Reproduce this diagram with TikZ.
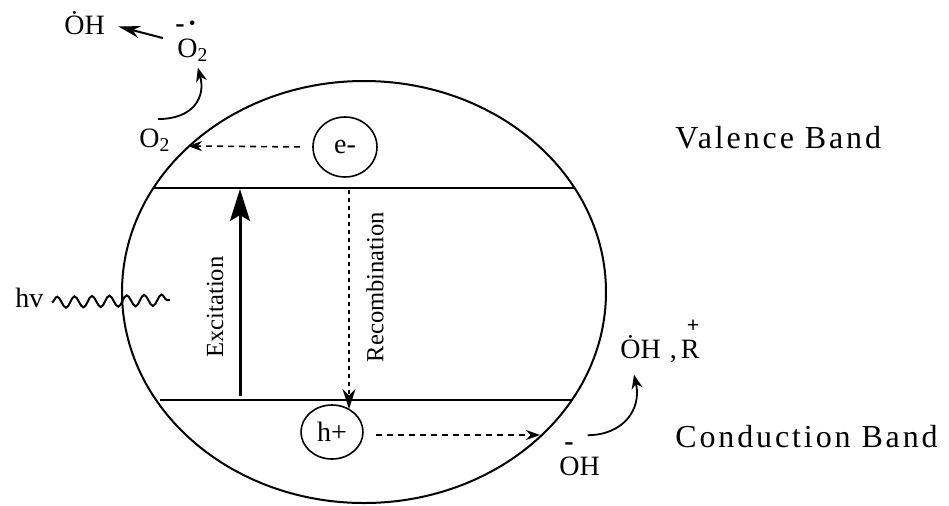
\documentclass[tikz,border=0pt]{standalone}
\usepackage{fontspec}
\setmainfont{Liberation Serif}
\usetikzlibrary{arrows.meta, shapes.geometric, decorations.pathmorphing}

% charge mark set above a letter
\newcommand\chgover[3][1em]{\leavevmode\rlap{\raisebox{#1}{#2}}#3}

\begin{document}
\begin{tikzpicture}[x=0.5pt, y=-0.5pt,
  chem/.style={font=\fontsize{14}{16}\selectfont, inner sep=1pt, anchor=base west},
  vlbl/.style={font=\fontsize{12.3}{14}\selectfont, inner sep=1pt, rotate=90},
  band/.style={font=\fontsize{16}{19}\selectfont\addfontfeatures{LetterSpace=9}, inner sep=0pt, anchor=base west},
  carrier/.style={draw, ellipse, line width=0.8pt, inner sep=0pt, font=\fontsize{14}{16}\selectfont},
  dasharr/.style={-{Stealth[length=7pt, width=5pt]}, line width=0.8pt, dash pattern=on 3pt off 2.5pt, shorten <=6pt},
  curvearr/.style={-{Stealth[length=7pt, width=5.5pt]}, line width=0.9pt}]
\useasboundingbox (0,0) rectangle (949,505);

% particle and the two band edges
\draw[line width=1pt] (364,292) ellipse [x radius=242, y radius=211];
\coordinate (vbL) at (153,188); \coordinate (vbR) at (575,188);
\coordinate (cbL) at (160,400); \coordinate (cbR) at (572,400);
\draw[line width=1pt] (vbL) -- (vbR);
\draw[line width=1pt] (cbL) -- (cbR);

\node[band] (vband) at (675,148) {Valence Band};
\node[band] (cband) at (675,447) {Conduction Band};

% carriers
\node[carrier, minimum width=32pt, minimum height=30pt] (eminus) at (345,147) {e-};
\node[carrier, minimum width=31pt, minimum height=27pt] (hplus) at (332,432) {h+};

% excitation and recombination
\coordinate (excfrom) at (240,396); \coordinate (excto) at (240,189);
\draw[-{Stealth[length=16pt, width=10pt, inset=3pt]}, line width=1.5pt] (excfrom) -- (excto);
\node[vlbl] (exclbl) at (215,307) {Excitation};
\coordinate (recfrom) at (349,190); \coordinate (recto) at (349,409);
\draw[-{Stealth[length=10pt, width=6.5pt]}, line width=0.8pt, dash pattern=on 2pt off 2pt] (recfrom) -- (recto);
\node[vlbl] (reclbl) at (375,287) {Recombination};

% light
\node[chem] (hv) at (13,307) {hv};
\coordinate (hvend) at (170,300);
\draw[decorate, decoration={snake, segment length=8.7pt, amplitude=2.8pt}, line width=1pt]
  ([xshift=3pt]hv.mid east) -- (hvend);

% electron side
\node[chem] (o2low) at (137,147) {O\textsubscript{2}};
\node[chem] (o2rad) at (175,57) {\chgover[0.88em]{\kern-1pt\textbf{-}\kern1.5pt\textbf{\textperiodcentered}}{O}\textsubscript{2}};
\node[chem] (ohtop) at (62,34) {\.OH};
\coordinate (o2hit) at (188,146);
\draw[dasharr] (eminus.west) -- (o2hit);
\draw[curvearr] ([xshift=1.5pt, yshift=3.5pt]o2low.north) .. controls +(35,0) and +(8,30) .. ([xshift=2.5pt, yshift=-2pt]o2rad.south);
\draw[-{Stealth[length=11pt, width=6pt]}, line width=1pt] ([xshift=-6pt, yshift=1.5pt]o2rad.west) -- ([xshift=5.5pt, yshift=1.5pt]ohtop.mid east);

% hole side
\node[chem] (ohlow) at (557,475) {\chgover[0.88em]{\kern2.5pt\textbf{-}}{O}H};
\node[chem] (ohrad) at (618,358) {\.OH\hspace{4.5pt},\hspace{2pt}\chgover[0.9em]{\kern3pt\fontsize{11}{12}\selectfont\bfseries +}{R}};
\coordinate (ohhit) at (540,435);
\draw[dasharr] ([yshift=-1.5pt]hplus.east) -- (ohhit);
\draw[curvearr] ([xshift=4pt, yshift=2.5pt]ohlow.north) .. controls +(35,0) and +(8,35) .. ([xshift=8pt, yshift=-5pt]ohrad.south west);
\end{tikzpicture}
\end{document}
